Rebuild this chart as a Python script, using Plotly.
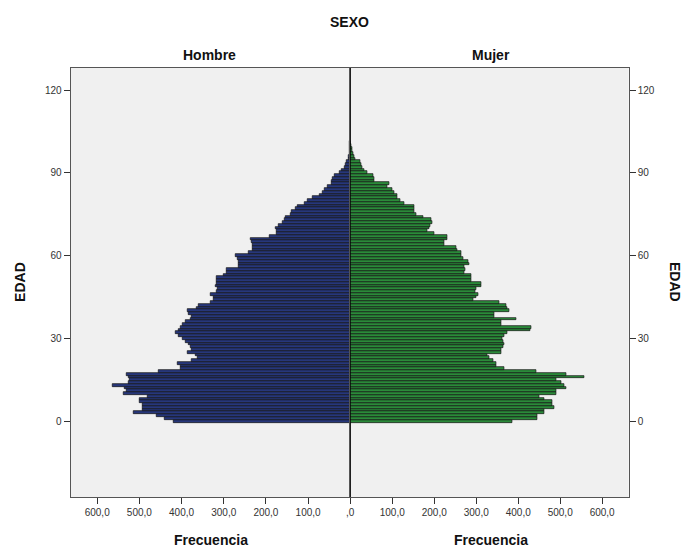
import plotly.graph_objects as go

# Ages (EDAD) 0..101
edad = list(range(0, 102))

# Frecuencia - Hombre
hombre = [419, 439, 458, 514, 492, 492, 493, 500, 500, 480,
          538, 530, 534, 564, 526, 523, 526, 531, 454, 403,
          403, 409, 375, 363, 367, 385, 375, 379, 383, 391,
          398, 406, 415, 406, 402, 398, 391, 379, 375, 383,
          385, 365, 359, 330, 323, 323, 330, 317, 314, 320,
          317, 318, 318, 300, 292, 292, 264, 264, 264, 268,
          272, 240, 232, 231, 231, 234, 236, 192, 175, 174,
          178, 169, 160, 155, 153, 141, 138, 129, 125, 109,
          101, 89, 73, 65, 61, 54, 45, 45, 41, 38,
          26, 20, 13, 10, 8, 5, 3, 2, 2, 1,
          1, 1]

# Frecuencia - Mujer
mujer = [387, 446, 446, 462, 462, 485, 482, 482, 462, 450,
         490, 490, 514, 510, 502, 490, 558, 514, 442, 367,
         347, 347, 341, 331, 327, 359, 359, 365, 367, 365,
         363, 367, 375, 429, 430, 359, 359, 395, 343, 343,
         379, 375, 371, 355, 292, 300, 305, 297, 300, 311,
         311, 289, 288, 288, 272, 274, 272, 284, 280, 270,
         264, 264, 256, 252, 224, 224, 232, 232, 200, 184,
         188, 190, 196, 192, 175, 157, 152, 153, 153, 129,
         120, 113, 113, 105, 101, 89, 93, 58, 58, 54,
         40, 33, 29, 26, 24, 13, 10, 8, 5, 4,
         2, 1]

x_ticks = [0, 100, 200, 300, 400, 500, 600]
x_ticktext = [",0", "100,0", "200,0", "300,0", "400,0", "500,0", "600,0"]
y_ticks = [0, 30, 60, 90, 120]
y_ticktext = ["0", "30", "60", "90", "120"]

W, H = 685, 550
left_px, center_px, right_px = 67, 348.3, 628.3
top_px, bottom_px = 68, 497

FONT = "Liberation Sans"
frame_col = "#555555"
tick_font = dict(family=FONT, size=10, color="#333333")

fig = go.Figure()
fig.add_trace(go.Bar(y=edad, x=hombre, orientation="h", width=1,
                     marker=dict(color="#27377A", line=dict(color="#111111", width=0.7)),
                     xaxis="x", yaxis="y", showlegend=False))
fig.add_trace(go.Bar(y=edad, x=mujer, orientation="h", width=1,
                     marker=dict(color="#2B8A3A", line=dict(color="#111111", width=0.7)),
                     xaxis="x2", yaxis="y2", showlegend=False))

xmax = 663
yrange = [-27.5, 128]
ydom = [(H - bottom_px) / H, (H - top_px) / H]

fig.update_layout(
    width=W, height=H,
    margin=dict(l=0, r=0, t=0, b=0),
    paper_bgcolor="white",
    plot_bgcolor="#F0F0F0",
    bargap=0,
    xaxis=dict(domain=[left_px / W, center_px / W], range=[xmax, 0],
               tickvals=x_ticks[1:], ticktext=x_ticktext[1:],
               ticks="outside", ticklen=6, tickcolor="#333333",
               showline=True, linecolor=frame_col, mirror=True,
               showgrid=False, zeroline=False, tickfont=tick_font,
               anchor="y"),
    yaxis=dict(domain=ydom, range=yrange, tickvals=y_ticks, ticktext=y_ticktext,
               ticks="outside", ticklen=6, tickcolor="#333333",
               showline=True, linecolor=frame_col, mirror=True,
               showgrid=False, zeroline=False, tickfont=tick_font,
               anchor="x"),
    xaxis2=dict(domain=[center_px / W, right_px / W], range=[0, xmax],
                tickvals=x_ticks, ticktext=x_ticktext,
                ticks="outside", ticklen=6, tickcolor="#333333",
                showline=True, linecolor=frame_col, mirror=True,
                showgrid=False, zeroline=False, tickfont=tick_font,
                anchor="y2"),
    yaxis2=dict(domain=ydom, range=yrange, tickvals=y_ticks, ticktext=y_ticktext,
                side="right", ticks="outside", ticklen=6, tickcolor="#333333",
                showline=True, linecolor=frame_col, mirror=True,
                showgrid=False, zeroline=False, tickfont=tick_font,
                anchor="x2"),
)

# centre line at frequency 0
fig.add_shape(type="line", xref="x2", yref="paper", x0=0, x1=0,
              y0=ydom[0], y1=ydom[1], line=dict(color="black", width=1.2), layer="above")


def label(text, x, y, angle=0, size=14):
    fig.add_annotation(text="<b>" + text + "</b>", x=x / W, y=1 - y / H,
                       xref="paper", yref="paper", showarrow=False,
                       textangle=angle, font=dict(family=FONT, size=size, color="#111111"),
                       xanchor="center", yanchor="middle")


label("SEXO", 348, 22)
label("Hombre", 207, 55)
label("Mujer", 490, 55)
label("Frecuencia", 208, 540)
label("Frecuencia", 490, 540)
label("EDAD", 16, 282, angle=-90)
label("EDAD", 675, 282, angle=90)

fig.write_html("out.html",
               config={"displayModeBar": False},
               post_script="document.body.style.margin='0';document.body.style.overflow='hidden';")
